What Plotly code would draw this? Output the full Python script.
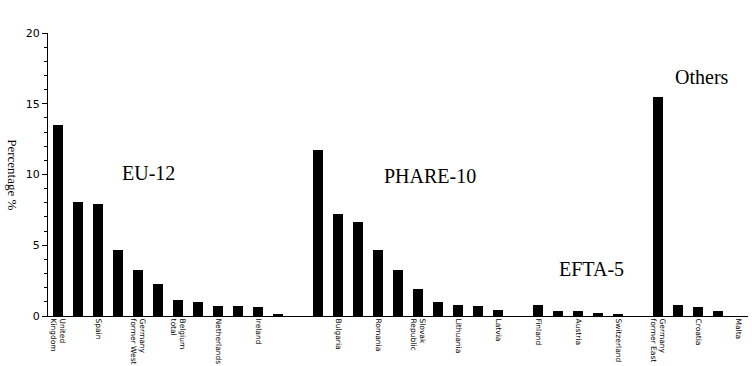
import plotly.graph_objects as go

# Slot index for each bar (35 slots, gaps between groups are zero-height slots)
values = [13.5, 8.05, 7.9, 4.65, 3.25, 2.25, 1.13, 0.99, 0.72, 0.72, 0.65, 0.08,
          0.0,
          11.7, 7.2, 6.65, 4.65, 3.25, 1.9, 0.99, 0.8, 0.72, 0.42,
          0.0,
          0.77, 0.38, 0.38, 0.2, 0.12,
          0.0,
          15.5, 0.8, 0.65, 0.38, 0.0]

label_slots = [0, 2, 4, 6, 8, 10, 14, 16, 18, 20, 22, 24, 26, 28, 30, 32, 34]
label_texts = ["United<br>Kingdom", "Spain", "Germany<br>former West", "Belgium<br>total",
               "Netherlands", "Ireland", "Bulgaria", "Romania", "Slovak<br>Republic",
               "Lithuania", "Latvia", "Finland", "Austria", "Switzerland",
               "Germany<br>former East", "Croatia", "Malta"]

group_names = ["EU-12", "PHARE-10", "EFTA-5", "Others"]
group_x = [4.5, 18.6, 26.65, 32.2]
group_y = [10.1, 9.9, 3.3, 16.9]

y_ticks = [0, 5, 10, 15, 20]

fig = go.Figure()
fig.add_trace(go.Bar(
    x=list(range(len(values))),
    y=values,
    width=0.5,
    marker=dict(color="black", line=dict(width=0)),
    showlegend=False,
))

for name, gx, gy in zip(group_names, group_x, group_y):
    fig.add_annotation(x=gx, y=gy, xref="x", yref="y", text=name, showarrow=False,
                       font=dict(family="Liberation Serif", size=20, color="black"),
                       xanchor="center", yanchor="middle")

fig.add_annotation(x=-0.051, y=0.5, xref="paper", yref="paper", text="Percentage %",
                   showarrow=False, textangle=90,
                   font=dict(family="Liberation Serif", size=13, color="black"),
                   xanchor="center", yanchor="middle")

fig.update_layout(
    width=752, height=366,
    margin=dict(l=48, r=4, t=33, b=50),
    paper_bgcolor="white", plot_bgcolor="white",
    bargap=0,
    xaxis=dict(
        range=[-0.5, 34.5], showgrid=False, zeroline=False, automargin=False,
        showline=True, linecolor="black", linewidth=1,
        ticks="", tickvals=label_slots, ticktext=label_texts, tickangle=90,
        tickfont=dict(family="DejaVu Sans", size=7.5, color="black"),
    ),
    yaxis=dict(
        range=[0, 20], showgrid=False, zeroline=False, automargin=False,
        showline=True, linecolor="black", linewidth=1,
        tickvals=y_ticks, ticks="outside", ticklen=5, tickcolor="black",
        tickfont=dict(family="DejaVu Sans", size=11, color="black"),
        minor=dict(dtick=1, ticks="outside", ticklen=3, tickcolor="black"),
    ),
)

fig.write_html("out.html")
